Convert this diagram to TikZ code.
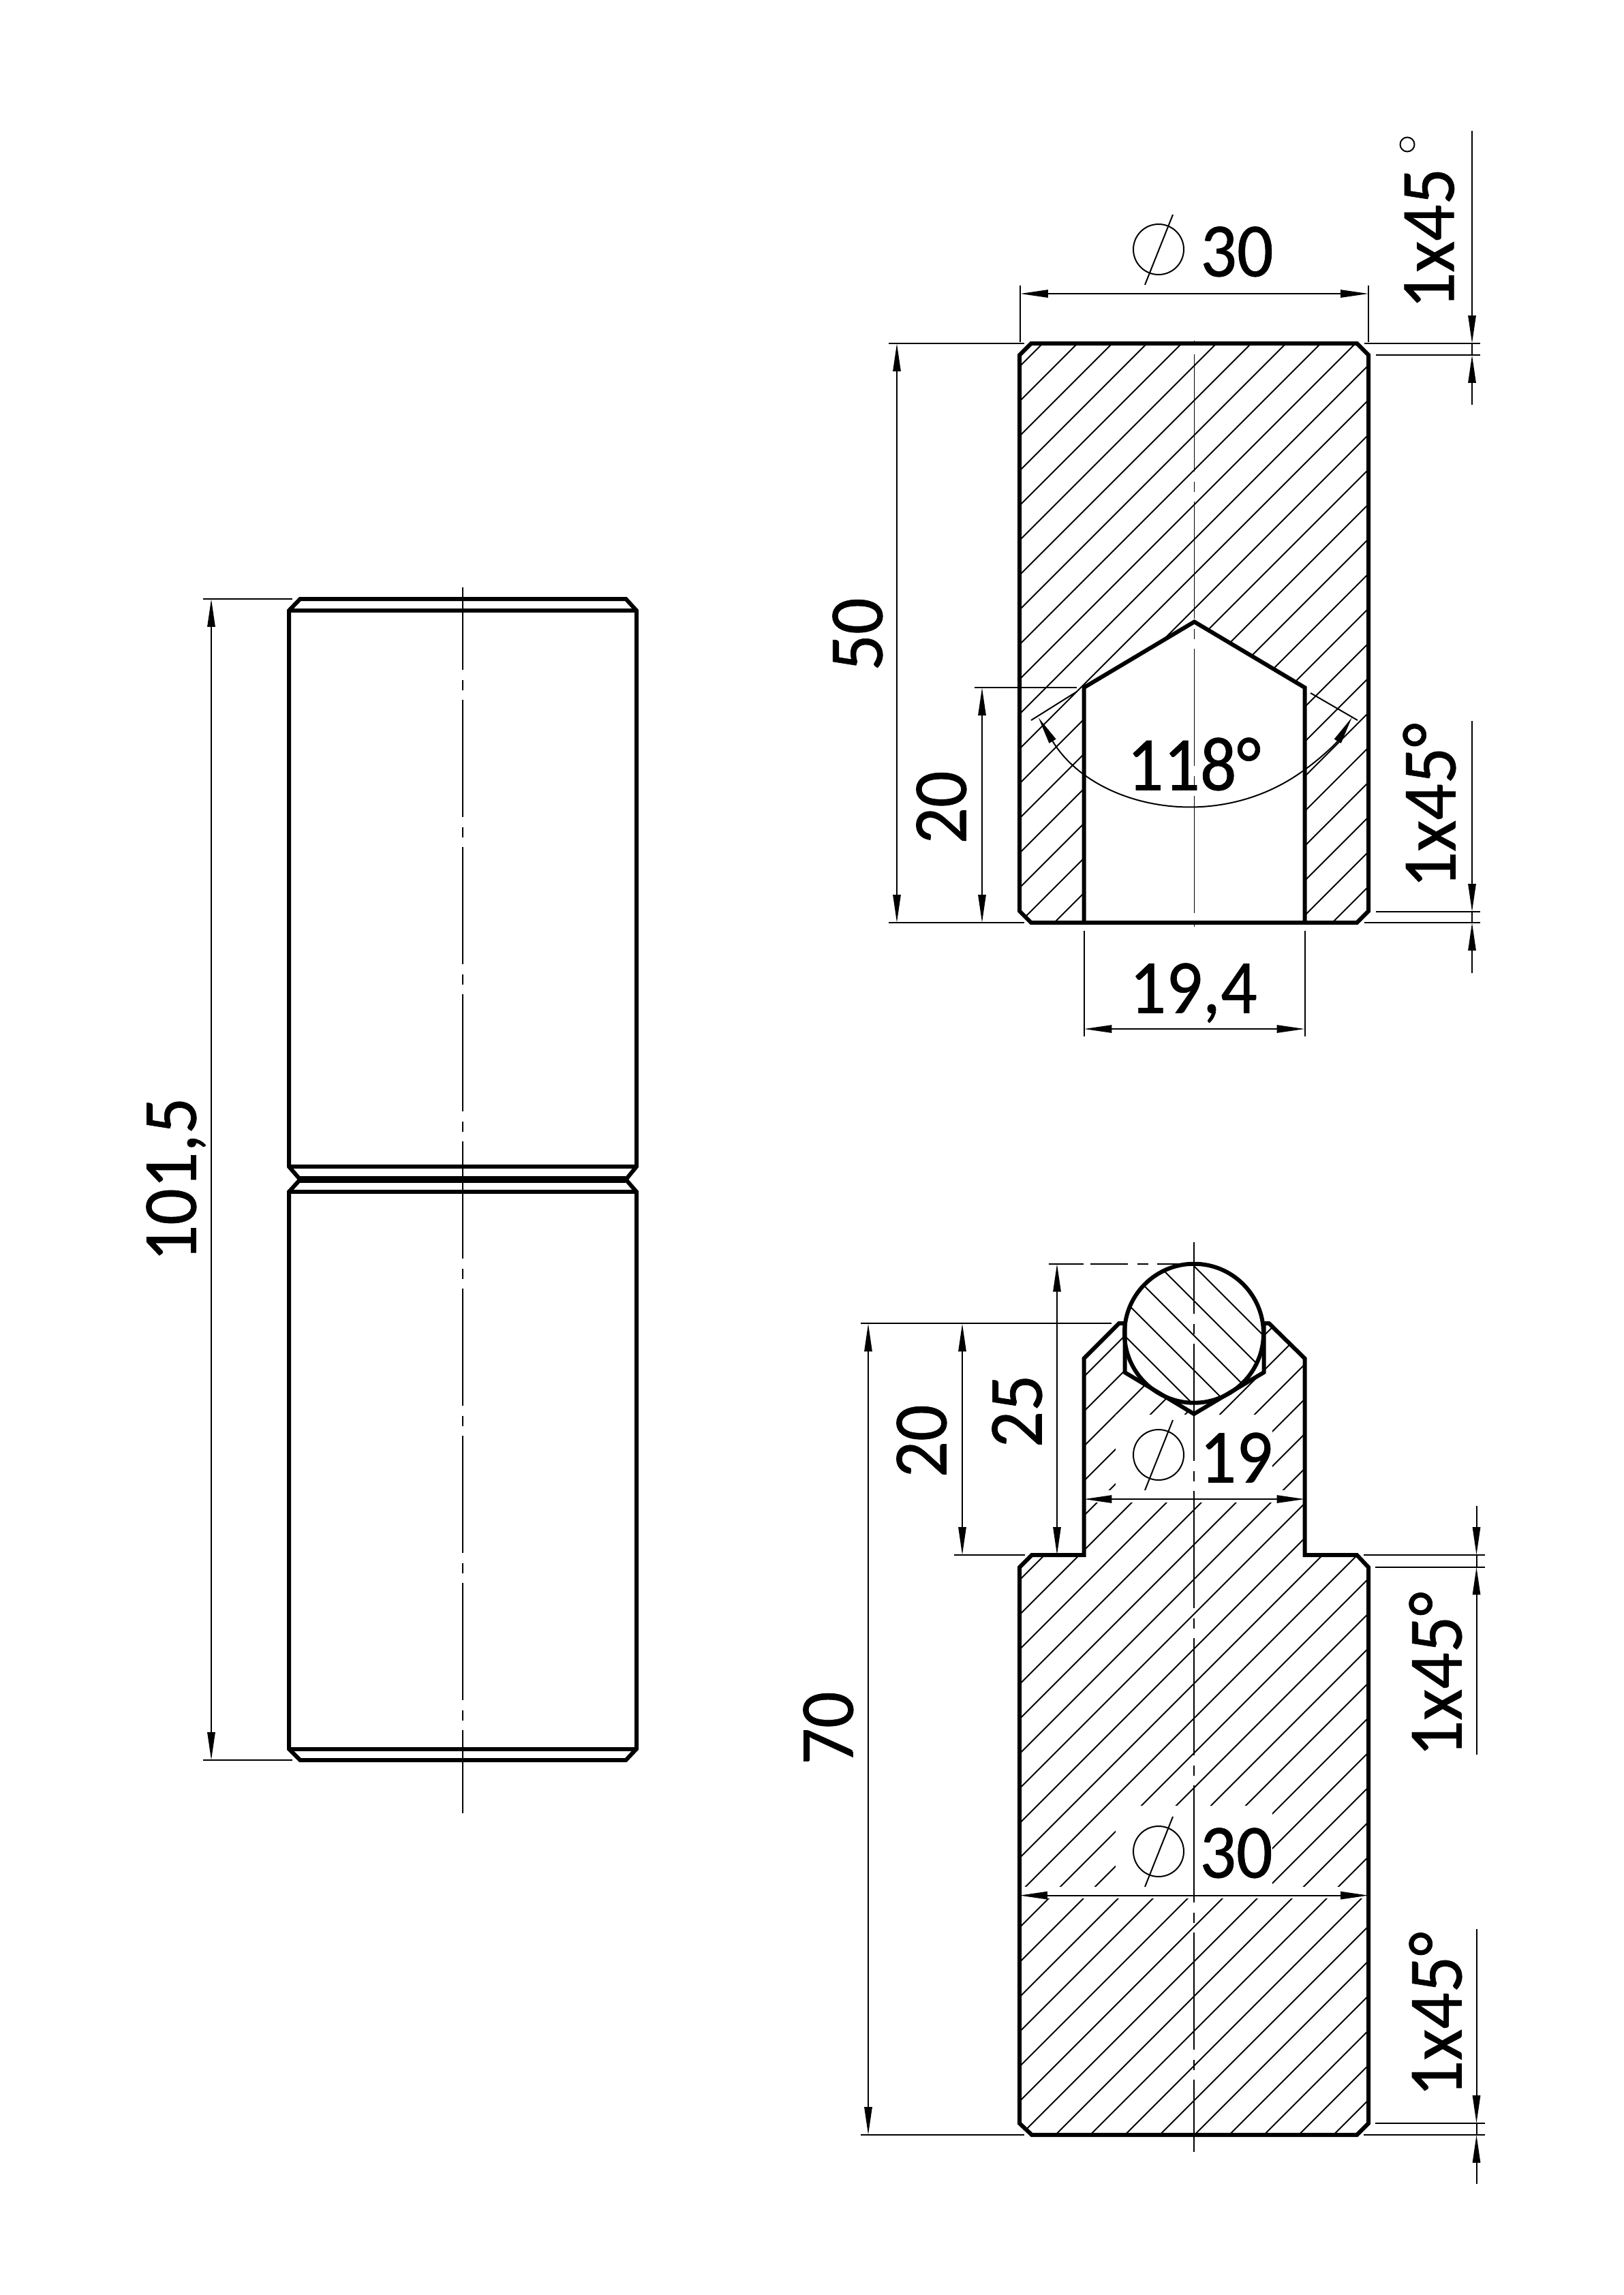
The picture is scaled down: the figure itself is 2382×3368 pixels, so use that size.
\documentclass[tikz,border=0pt]{standalone}
\usepackage{fontspec}
\setmainfont{Carlito}
\newfontfamily\dimfont[FakeBold=0.6,FakeStretch=0.94]{Carlito}
\usetikzlibrary{arrows.meta}
\tikzset{
  thickline/.style={line width=1.44pt,line join=miter,line cap=butt},
  thinline/.style={line width=0.48pt},
  hatchline/.style={line width=0.48pt},
  dimline/.style={line width=0.48pt,>={Triangle[length=9.8pt,width=2.7pt]}},
  chain/.style={line width=#1,dash pattern=on 41.28pt off 3.6pt on 3.6pt off 3.36pt},
  dimtext/.style={inner sep=0pt,text depth=0pt,font=\dimfont\fontsize{27}{30}\selectfont},
  vertext/.style={dimtext,rotate=90,xshift=-0.96pt},
}
\newcommand{\diasym}[2]{%
  \draw[thinline] (#1,#2) circle[radius=37];
  \draw[thinline] (#1-20,#2+52) -- (#1+21,#2-51);
}
\begin{document}
\begin{tikzpicture}[x=0.24pt,y=-0.24pt]
\useasboundingbox (0,0) rectangle (2382,3368);
\fill[white] (0,0) rectangle (2382,3368);
% ---------- hatching, upper section
\begin{scope}
\clip (1513,504)--(1991,504)--(2008,521)--(2008,1337)--(1991,1354)--(1914.5,1354)--(1914.5,1009)--(1752.5,912.5)--(1590.5,1009)--(1590.5,1354)--(1513,1354)--(1496,1337)--(1496,521)--cycle;
\foreach \k in {-2,...,26}{
  \pgfmathsetmacro{\c}{2085+51*\k}
  \draw[hatchline] (\c-400,400)--(\c-1500,1500);
}
\end{scope}
% ---------- hatching, lower section
\begin{scope}
\clip (1514,2282)--(1590.5,2282)--(1590.5,1993.5)--(1642,1942)--(1650.5,1942)--(1650.5,2014)--(1752,2075)--(1854.5,2014)--(1854.5,1942)--(1862,1942)--(1914.5,1993.5)--(1914.5,2282)--(1991,2282)--(2008,2300)--(2008,3116)--(1991,3133)--(1514,3133)--(1496,3116)--(1496,2300)--cycle;
\foreach \k in {-24,...,9}{
  \pgfmathsetmacro{\c}{4732.7+51*\k}
  \draw[hatchline] (\c-1800,1800)--(\c-3200,3200);
}
\end{scope}
\fill[white] (1637,2076) rectangle (1867,2187);
\fill[white] (1590.5,2187) rectangle (1914.5,2205);
\fill[white] (1637,2650) rectangle (1867,2769);
\fill[white] (1496,2769) rectangle (2008,2786);
% pin hatching
\begin{scope}
\clip (1752,1956.7) circle[radius=102];
\fill[white] (1752,1956.7) circle[radius=102];
\foreach \c in {-106,-157,-208,-259,-310}{
  \draw[hatchline] (\c+1800,1800)--(\c+2100,2100);
}
\end{scope}
% ---------- centre lines
\draw[chain=0.4pt,dash phase=46.9pt] (1752.5,499.5)--(1752.5,1360);
\draw[chain=0.4pt,dash phase=16pt] (1752.2,1822.5)--(1752.2,3158);
\draw[chain=0.6pt,dash phase=12.1pt] (679,861.5)--(679,2660.5);
% ---------- left view
\draw[thickline] (440.4,879)--(918.4,879)--(934,896)--(934,1712)--(918.4,1731)--(934,1749)--(934,2566.5)--(918.4,2583)--(440.4,2583)--(424,2566.5)--(424,1749)--(440.4,1731)--(424,1712)--(424,896)--cycle;
\draw[thickline] (424,896)--(934,896) (424,1712)--(934,1712) (424,1749)--(934,1749) (424,2566.5)--(934,2566.5);
\draw[line width=2.2pt] (440.4,1731)--(918.4,1731);
% ---------- upper section
\draw[thickline] (1513,504)--(1991,504)--(2008,521)--(2008,1337)--(1991,1354)--(1513,1354)--(1496,1337)--(1496,521)--cycle;
\draw[thickline] (1590.5,1354)--(1590.5,1009)--(1752.5,912.5)--(1914.5,1009)--(1914.5,1354);
% ---------- lower section
\draw[thickline] (1650.5,1942)--(1642,1942)--(1590.5,1993.5)--(1590.5,2282)--(1514,2282)--(1496,2300)--(1496,3116)--(1514,3133)--(1991,3133)--(2008,3116)--(2008,2300)--(1991,2282)--(1914.5,2282)--(1914.5,1993.5)--(1862,1942)--(1854.5,1942);
\draw[thickline] (1650.5,1942)--(1650.5,2014)--(1752,2075)--(1854.5,2014)--(1854.5,1942);
\draw[thickline] (1752,1956.7) circle[radius=102];
% ---------- dimensions, left view
\draw[thinline] (298,879)--(429,879) (298,2583)--(429,2583);
\draw[dimline,<->] (310,879)--(310,2583);
\node[vertext] (t1015) at (251,1727) {101,5};
% ---------- dimensions, upper section
\draw[thinline] (1304,504)--(1503,504) (1304,1354)--(1503,1354) (1430,1009)--(1580,1009);
\draw[dimline,<->] (1316,504)--(1316,1354);
\draw[dimline,<->] (1441,1009)--(1441,1354);
\node[vertext] (t50) at (1258,927) {50};
\node[vertext] (t20a) at (1381,1181) {20};
\draw[thinline] (1497,419)--(1497,502) (2008,419)--(2008,502);
\draw[dimline,<->] (1497,431)--(2008,431);
\diasym{1700}{366}
\node[dimtext] (t30a) at (1815,369) {30};
% chamfer top
\draw[thinline] (2002,504)--(2172,504) (2019,521)--(2172,521) (2160,504)--(2160,521);
\draw[dimline,->] (2160,192)--(2160,504);
\draw[dimline,->] (2160,594)--(2160,521);
\node[vertext] (t145a) at (2097,346) {1x45};
\draw[thinline] (2065,212) circle[radius=10.5];
% chamfer bottom
\draw[thinline] (2002,1354)--(2172,1354) (2019,1338)--(2172,1338) (2160,1338)--(2160,1354);
\draw[dimline,->] (2160,1058)--(2160,1338);
\draw[dimline,->] (2160,1428)--(2160,1354);
\node[vertext] (t145b) at (2097,1178) {1x45°};
% 19,4
\draw[thinline] (1590.5,1366)--(1590.5,1521) (1914.5,1366)--(1914.5,1521);
\draw[dimline,<->] (1590.5,1510)--(1914.5,1510);
\node[dimtext] (t194) at (1751,1450) {19,4};
% 118
\draw[thinline] (1580,1015)--(1513,1057) (1923,1017)--(1992,1057);
\draw[dimline,<->] (1523.5,1052.7) arc[start angle=149,end angle=31,radius=268.5];
\node[dimtext] (t118) at (1752,1121) {118°};
% ---------- dimensions, lower section
\draw[thinline] (1263,1942.4)--(1631,1942.4) (1263,3133)--(1503,3133) (1400,2282)--(1504,2282);
\draw[thinline] (1539,1854.7)--(1590,1854.7) (1600,1854.7)--(1655,1854.7) (1669,1854.7)--(1685,1854.7) (1698,1854.7)--(1752,1854.7);
\draw[dimline,<->] (1274,1942.4)--(1274,3133);
\draw[dimline,<->] (1412,1942.4)--(1412,2282);
\draw[dimline,<->] (1551,1854.7)--(1551,2282);
\node[vertext] (t25) at (1492,2067) {25};
\node[vertext] (t20b) at (1352,2111) {20};
\node[vertext] (t70) at (1215,2532) {70};
\draw[dimline,<->] (1590.5,2200)--(1914.5,2200);
\diasym{1700}{2135}
\node[dimtext] (t19) at (1814,2139) {19};
\draw[dimline,<->] (1496,2781.6)--(2008,2781.6);
\diasym{1700}{2717}
\node[dimtext] (t30b) at (1814,2719) {30};
% chamfers
\draw[thinline] (2001,2282)--(2179,2282) (2018,2299.6)--(2179,2299.6) (2166.5,2282)--(2166.5,2299.6);
\draw[dimline,->] (2166.5,2210)--(2166.5,2282);
\draw[dimline,->] (2166.5,2575)--(2166.5,2299.6);
\node[vertext] (t145c) at (2106,2453) {1x45°};
\draw[thinline] (2018,3116)--(2179,3116) (2001,3133)--(2179,3133) (2166.5,3116)--(2166.5,3133);
\draw[dimline,->] (2166.5,2831)--(2166.5,3116);
\draw[dimline,->] (2166.5,3205)--(2166.5,3133);
\node[vertext] (t145d) at (2106,2952) {1x45°};
\end{tikzpicture}
\end{document}
